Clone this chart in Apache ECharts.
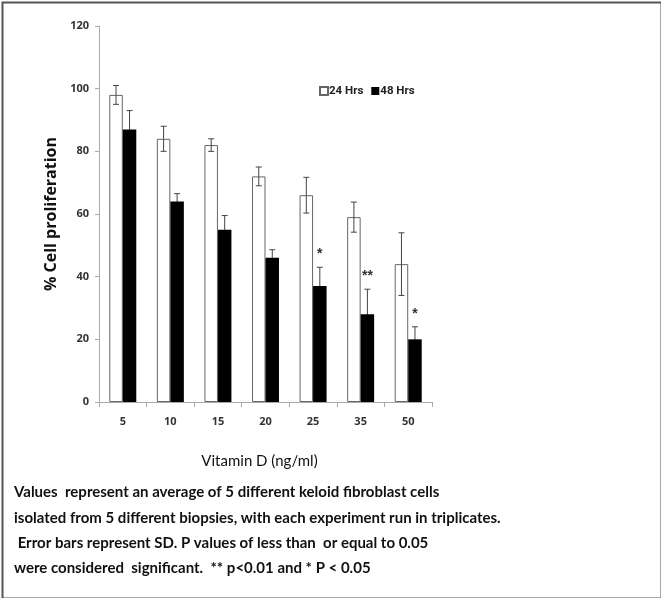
<!DOCTYPE html>
<html>
<head>
<meta charset="utf-8">
<script src="https://cdn.jsdelivr.net/npm/echarts@6/dist/echarts.min.js"></script>
<style>
html,body{margin:0;padding:0;background:#fff;}
#chart{width:661px;height:598px;}
</style>
</head>
<body>
<div id="chart"></div>
<script>
// ---- data ----
const categories = ['5', '10', '15', '20', '25', '35', '50'];
const hrs24 = [98, 84, 82, 72, 66, 59, 44];
const sd24 = [3, 4, 2, 3, 5.7, 4.8, 10];
const hrs48 = [87, 64, 55, 46, 37, 28, 20];
const sd48 = [6, 2.5, 4.5, 2.6, 6, 8, 4];
const sig48 = ['', '', '', '', '*', '**', '*'];
const yTicks = [0, 20, 40, 60, 80, 100, 120];
const captionLines = [
  'Values  represent an average of 5 different keloid fibroblast cells',
  'isolated from 5 different biopsies, with each experiment run in triplicates.',
  ' Error bars represent SD. P values of less than  or equal to 0.05',
  'were considered  significant.  ** p<0.01 and * P < 0.05'
];

const chart = echarts.init(document.getElementById('chart'), null, {renderer: 'canvas'});

function errorSeries(name, values, sds, offset, upColor, lowColor, marks) {
  return {
    type: 'custom',
    name: name + ' SD',
    z: 5,
    silent: true,
    data: values.map((v, i) => [i, v, sds[i]]),
    renderItem: function (params, api) {
      const i = api.value(0);
      const v = api.value(1);
      const s = api.value(2);
      const c = api.coord([i, v]);
      const x = c[0] + offset;
      const yMid = c[1];
      const yTop = api.coord([i, v + s])[1];
      const yBot = api.coord([i, v - s])[1];
      const cap = 3;
      const children = [
        {type: 'line', shape: {x1: x, y1: yTop, x2: x, y2: yMid}, style: {stroke: upColor, lineWidth: 1}},
        {type: 'line', shape: {x1: x, y1: yMid, x2: x, y2: yBot}, style: {stroke: lowColor, lineWidth: 1}},
        {type: 'line', shape: {x1: x - cap, y1: yTop, x2: x + cap, y2: yTop}, style: {stroke: upColor, lineWidth: 1}},
        {type: 'line', shape: {x1: x - cap, y1: yBot, x2: x + cap, y2: yBot}, style: {stroke: lowColor, lineWidth: 1}}
      ];
      const m = marks ? marks[i] : '';
      if (m) {
        children.push({
          type: 'text',
          style: {
            text: m, x: x, y: yTop - 6,
            textAlign: 'center', textVerticalAlign: 'bottom',
            font: 'bold 14px "Liberation Sans", Arial, sans-serif',
            fill: '#333'
          }
        });
      }
      return {type: 'group', children: children};
    }
  };
}

const barW = 13.5;

const option = {
  backgroundColor: '#fff',
  animation: false,
  grid: {left: 99, right: 229, top: 26, bottom: 196, containLabel: false},
  legend: {
    left: 314, top: 80,
    itemWidth: 8, itemHeight: 8, itemGap: 8,
    icon: 'rect',
    textStyle: {fontFamily: 'Roboto, "Liberation Sans", sans-serif', fontWeight: 'bold', fontSize: 11.5, color: '#222', padding: [0, 0, 0, -4]},
    data: ['24 Hrs', '48 Hrs']
  },
  xAxis: {
    type: 'category',
    data: categories,
    name: 'Vitamin D (ng/ml)',
    nameLocation: 'middle',
    nameGap: 52,
    nameTextStyle: {fontFamily: 'Lato, "Open Sans", sans-serif', fontSize: 15, color: '#111', padding: [0, 12, 0, 0]},
    axisLine: {lineStyle: {color: '#aaa', width: 1}},
    axisTick: {show: true, alignWithLabel: false, length: 5, lineStyle: {color: '#aaa'}},
    axisLabel: {fontFamily: '"Open Sans", sans-serif', fontWeight: 'bold', fontSize: 11, color: '#333', margin: 14}
  },
  yAxis: {
    type: 'value',
    min: 0, max: 120, interval: 20,
    name: '% Cell proliferation',
    nameLocation: 'middle',
    nameGap: 26,
    nameRotate: 90,
    nameTextStyle: {fontFamily: '"Open Sans", sans-serif', fontWeight: 'bold', fontSize: 16, color: '#111'},
    axisLine: {show: true, lineStyle: {color: '#aaa', width: 1}},
    axisTick: {show: true, length: 4, lineStyle: {color: '#aaa'}},
    splitLine: {show: false},
    axisLabel: {
      fontFamily: '"Open Sans", sans-serif', fontWeight: 'bold', fontSize: 11, color: '#333', margin: 10,
      formatter: function (v) { return yTicks.indexOf(v) >= 0 ? String(v) : ''; }
    }
  },
  series: [
    {
      name: '24 Hrs', type: 'bar', data: hrs24, barWidth: barW, barGap: '0%',
      itemStyle: {color: '#fff', borderColor: '#666', borderWidth: 1}
    },
    {
      name: '48 Hrs', type: 'bar', data: hrs48, barWidth: barW, barGap: '0%',
      itemStyle: {color: '#000', borderColor: '#000', borderWidth: 0}
    },
    errorSeries('24 Hrs', hrs24, sd24, -barW / 2, '#444', '#444', null),
    errorSeries('48 Hrs', hrs48, sd48, barW / 2, '#444', '#000', sig48)
  ],
  graphic: [
    {
      type: 'rect', left: 0, top: 0, silent: true, z: 100,
      shape: {x: 1, y: 1, width: 659, height: 596},
      style: {fill: 'none', stroke: '#555', lineWidth: 2}
    }
  ].concat(captionLines.map((t, k) => ({
    type: 'text', left: 14, top: 485 + k * 25.3, silent: true,
    style: {text: t, font: 'bold 15px Lato, "Open Sans", sans-serif', fill: '#111'}
  })))
};

chart.setOption(option);
</script>
</body>
</html>
